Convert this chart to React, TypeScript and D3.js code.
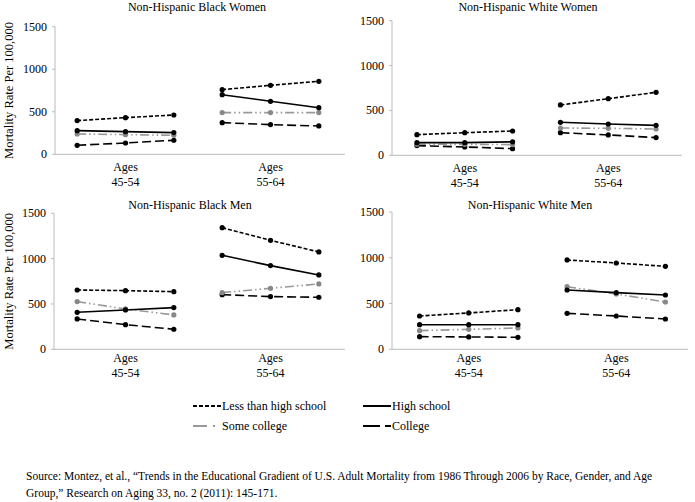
import React from "react";
import { scaleBand, scaleLinear, scalePoint, line } from "d3";

// age groups on the x axis, three periods inside each group
const ageGroups = ["45-54", "55-64"];
const periods = ["1986", "1996", "2006"];
const yTicks = [0, 500, 1000, 1500];

const seriesNames = ["Less than high school", "High school", "Some college", "College"];

// values: 3 periods for 45-54, then 3 for 55-64
const blackWomenLths = [396, 431, 462, 760, 811, 858];
const blackWomenHs = [278, 266, 255, 701, 623, 548];
const blackWomenSc = [239, 231, 223, 490, 490, 490];
const blackWomenCol = [106, 133, 165, 372, 349, 333];

const whiteWomenLths = [230, 252, 271, 561, 631, 702];
const whiteWomenHs = [141, 141, 150, 368, 349, 334];
const whiteWomenSc = [123, 122, 119, 304, 301, 293];
const whiteWomenCol = [108, 93, 74, 252, 227, 197];

const blackMenLths = [654, 647, 636, 1342, 1202, 1074];
const blackMenHs = [408, 434, 460, 1037, 923, 820];
const blackMenSc = [526, 445, 379, 625, 673, 721];
const blackMenCol = [335, 272, 221, 603, 581, 574];

const whiteMenLths = [364, 397, 433, 976, 943, 906];
const whiteMenHs = [269, 269, 269, 648, 619, 593];
const whiteMenSc = [204, 218, 233, 684, 604, 517];
const whiteMenCol = [138, 135, 131, 393, 364, 331];

const FONT = "'Liberation Serif', 'Times New Roman', serif";

const styles = [
  { stroke: "#000", dash: "4,2", dot: "#000", legendDash: "4,2" },
  { stroke: "#000", dash: null, dot: "#000", legendDash: null },
  { stroke: "#999", dash: "9,3,1.5,3,1.5,3", dot: "#888", legendDash: "14,6,2,20" },
  { stroke: "#000", dash: "9,4", dot: "#000", legendDash: "17,5,7" }
];

const panels = [
  {
    title: "Non-Hispanic Black Women",
    series: [blackWomenLths, blackWomenHs, blackWomenSc, blackWomenCol],
    range: [53, 343], axisX: 55, axisEnd: 345, y0: 154.3, y1: 26.7,
    titleX: 197, titleY: 11, labelDy: [17, 32], yLabel: true
  },
  {
    title: "Non-Hispanic White Women",
    series: [whiteWomenLths, whiteWomenHs, whiteWomenSc, whiteWomenCol],
    range: [393, 680], axisX: 392, axisEnd: 682, y0: 155.3, y1: 20.7,
    titleX: 528, titleY: 11, labelDy: [17, 32], yLabel: false
  },
  {
    title: "Non-Hispanic Black Men",
    series: [blackMenLths, blackMenHs, blackMenSc, blackMenCol],
    range: [53, 343], axisX: 54, axisEnd: 345, y0: 349.3, y1: 213.3,
    titleX: 190, titleY: 209, labelDy: [13, 28], yLabel: true
  },
  {
    title: "Non-Hispanic White Men",
    series: [whiteMenLths, whiteMenHs, whiteMenSc, whiteMenCol],
    range: [395, 690], axisX: 392, axisEnd: 688, y0: 349.3, y1: 212,
    titleX: 530, titleY: 209, labelDy: [13, 28], yLabel: false
  }
];

const Panel = ({ p }) => {
  const xBand = scaleBand().domain(ageGroups).range(p.range);
  const xInner = scalePoint().domain(periods).range([0, xBand.bandwidth()]).padding(0.5);
  const y = scaleLinear().domain([0, 1500]).range([p.y0, p.y1]);

  return (
    <g>
      <text x={p.titleX} y={p.titleY} textAnchor="middle" fontSize={12}>{p.title}</text>
      {p.yLabel && (
        <text
          transform={`translate(13,${(p.y0 + p.y1) / 2}) rotate(-90)`}
          textAnchor="middle"
          fontSize={12.5}
        >
          Mortality Rate Per 100,000
        </text>
      )}
      {/* axes */}
      <line x1={p.axisX} x2={p.axisX} y1={y(1500)} y2={y(0)} stroke="#bbb" />
      <line x1={p.axisX} x2={p.axisEnd} y1={y(0)} y2={y(0)} stroke="#bbb" />
      {yTicks.map(t => (
        <g key={t}>
          <line x1={p.axisX - 3} x2={p.axisX} y1={y(t)} y2={y(t)} stroke="#bbb" />
          <text x={p.axisX - 8} y={y(t) + 4} textAnchor="end" fontSize={12}>{t}</text>
        </g>
      ))}
      {ageGroups.map(a => (
        <text key={a} x={xBand(a) + xBand.bandwidth() / 2} textAnchor="middle" fontSize={12}>
          <tspan x={xBand(a) + xBand.bandwidth() / 2} y={p.y0 + p.labelDy[0]}>Ages</tspan>
          <tspan x={xBand(a) + xBand.bandwidth() / 2} y={p.y0 + p.labelDy[1]}>{a}</tspan>
        </text>
      ))}
      {/* series: draw college first so the others sit on top */}
      {[3, 2, 1, 0].map(si => {
        const vals = p.series[si];
        const st = styles[si];
        return ageGroups.map((a, gi) => {
          const pts = periods.map((per, pi) => [xBand(a) + xInner(per), y(vals[gi * 3 + pi])]);
          return (
            <g key={`${si}-${a}`}>
              <path
                d={line()(pts)}
                fill="none"
                stroke={st.stroke}
                strokeWidth={1.6}
                strokeDasharray={st.dash || undefined}
              />
              {pts.map((pt, k) => (
                <circle key={k} cx={pt[0]} cy={pt[1]} r={2.6} fill={st.dot} />
              ))}
            </g>
          );
        });
      })}
    </g>
  );
};

const legendPos = [
  { x: 193, y: 406 },
  { x: 363, y: 406 },
  { x: 193, y: 426 },
  { x: 363, y: 426 }
];

export default function App() {
  return (
    <svg
      width={695}
      height={502}
      style={{ position: "absolute", left: 0, top: 0, background: "#fff" }}
      fontFamily={FONT}
    >
      <rect width={695} height={502} fill="#fff" />
      {panels.map(p => <Panel key={p.title} p={p} />)}
      {seriesNames.map((name, i) => {
        const lp = legendPos[i];
        const st = styles[i];
        return (
          <g key={name}>
            <line
              x1={lp.x} x2={lp.x + 28} y1={lp.y} y2={lp.y}
              stroke={st.stroke} strokeWidth={2}
              strokeDasharray={st.legendDash || undefined}
            />
            <text x={lp.x + 29} y={lp.y + 4} fontSize={12}>{name}</text>
          </g>
        );
      })}
      <text x={26} y={480} fontSize={11.5}>
        Source: Montez, et al., “Trends in the Educational Gradient of U.S. Adult Mortality from 1986 Through 2006 by Race, Gender, and Age
      </text>
      <text x={26} y={497} fontSize={11.5}>
        Group,” Research on Aging 33, no. 2 (2011): 145-171.
      </text>
    </svg>
  );
}
